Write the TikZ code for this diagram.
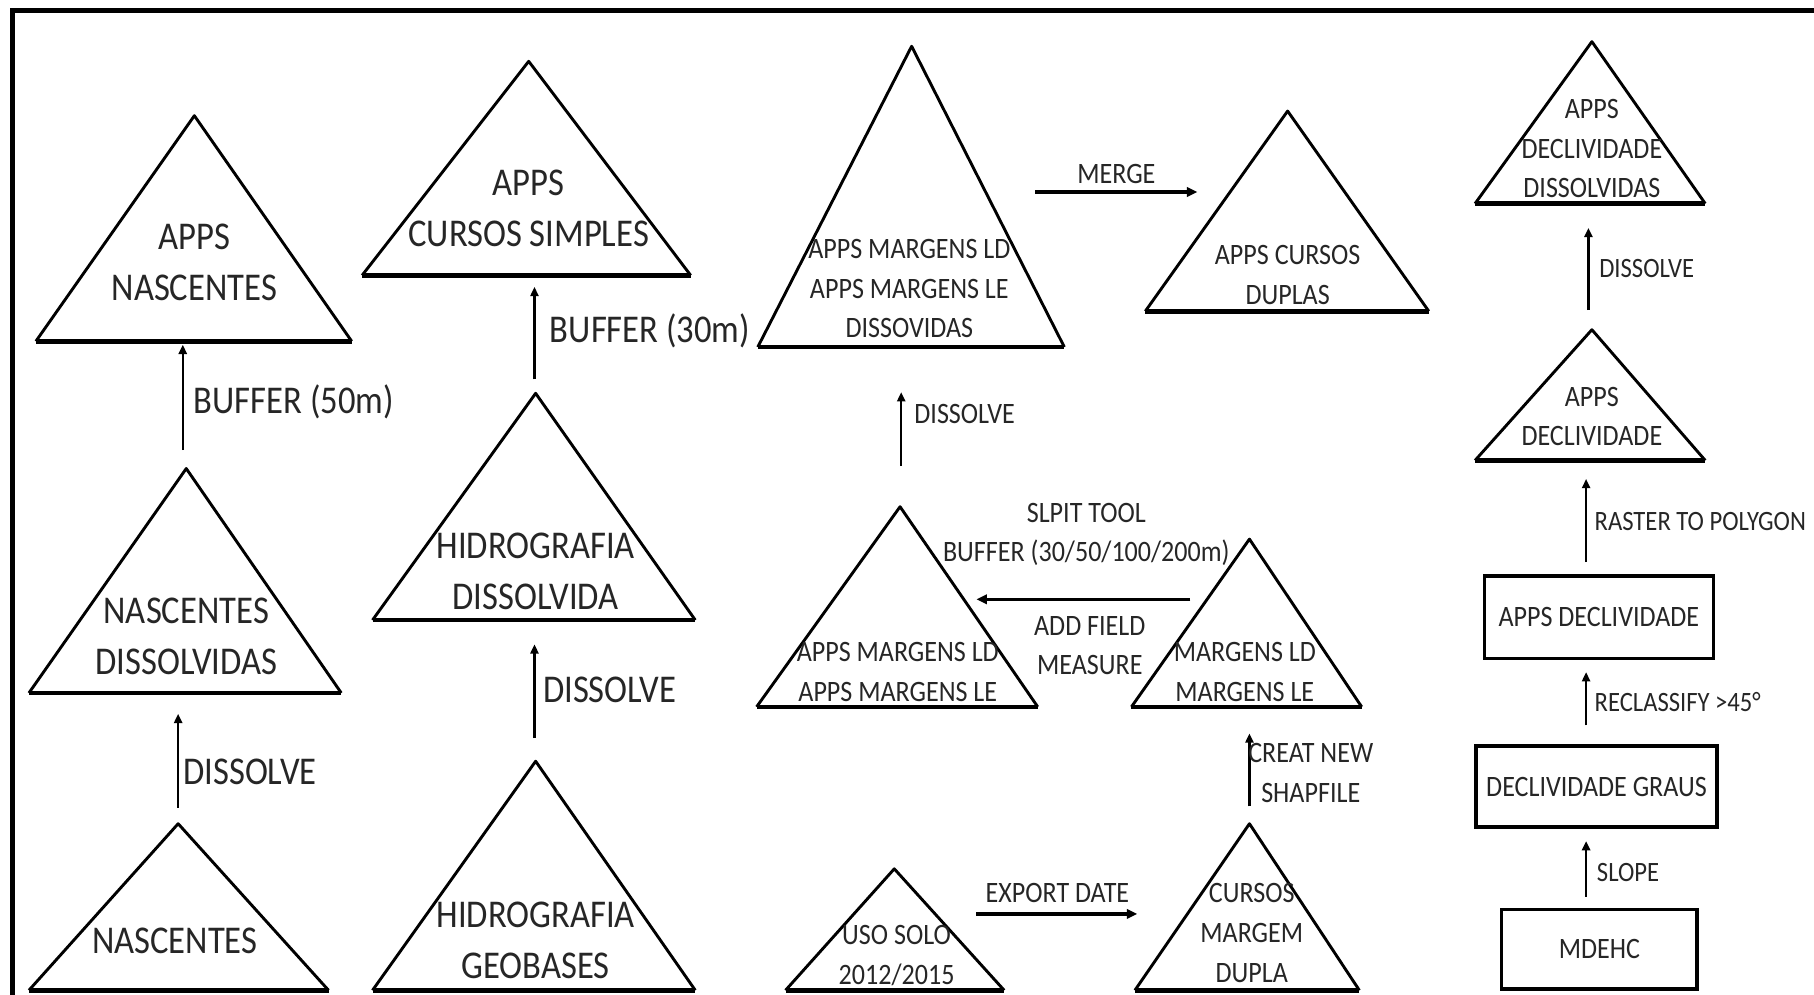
\documentclass[tikz,border=0pt]{standalone}
\usepackage{fontspec}
\setmainfont{Carlito}[FakeStretch=0.88]
\usetikzlibrary{arrows.meta}
\newcommand\mytri[6]{%
  \draw[side] (#2,#4) -- (#5,#6) -- (#3,#4);
  \draw[basel] (#2,#4) -- (#3,#4);
  \coordinate (#1) at (#5,#6);}
\begin{document}
\begin{tikzpicture}[x=0.5pt,y=-0.5pt,
  side/.style={line width=1.25pt, line join=round},
  basel/.style={line width=2pt},
  bigtxt/.style={inner sep=0pt, align=center, text=black!85, font=\fontsize{17}{22}\selectfont},
  smalltxt/.style={inner sep=0pt, align=center, text=black!85, font=\fontsize{12.8}{17.2}\selectfont},
  sidetxt/.style={inner sep=0pt, align=left, anchor=west, text=black!85, font=\fontsize{12.1}{16}\selectfont},
  arr/.style={line width=1pt, -{Triangle[length=4pt,width=3.5pt]}},
  harr/.style={line width=1.5pt, -{Triangle[length=4.5pt,width=4pt]}},
  procbox/.style={draw, line width=1.5pt, inner sep=0pt, text=black!85, font=\fontsize{12.8}{17.2}\selectfont},
]
\useasboundingbox (0,0) rectangle (1568,860);
\fill[white] (0,0) rectangle (1568,860);
\draw[line width=1.9pt] (10.7,870) -- (10.7,9) -- (1580,9);

% triangles
\mytri{T1}{31}{304}{295}{168}{100}
\mytri{T2}{313}{597}{238}{457}{53}
\mytri{T3}{25}{295}{599}{161}{405}
\mytri{T4}{322}{601}{536}{463}{340}
\mytri{T5}{25}{284}{856}{154}{712}
\mytri{T6}{322}{601}{856}{463}{658}
\mytri{T7}{655}{920}{300}{788}{40}
\mytri{T8}{990}{1235}{269}{1113}{96}
\mytri{T9}{654}{897}{611}{778}{438}
\mytri{T10}{978}{1177}{611}{1080}{466}
\mytri{T11}{679}{868}{856}{773}{751}
\mytri{T12}{981}{1175}{856}{1080}{712}
\mytri{T13}{1275}{1474}{176}{1376}{36}
\mytri{T14}{1275}{1474}{398}{1376}{285}

% triangle texts
\node[bigtxt] (t1) at (168,227) {APPS\\NASCENTES};
\node[bigtxt] (t2) at (457,180) {APPS\\CURSOS SIMPLES};
\node[bigtxt] (t3) at (161,550) {NASCENTES\\DISSOLVIDAS};
\node[bigtxt] (t4) at (463,493.5) {HIDROGRAFIA\\DISSOLVIDA};
\node[bigtxt] (t5) at (151,813) {NASCENTES};
\node[bigtxt] (t6) at (463,812.5) {HIDROGRAFIA\\GEOBASES};
\node[smalltxt] (t7) at (786,249.5) {APPS MARGENS LD\\APPS MARGENS LE\\DISSOVIDAS};
\node[smalltxt] (t8) at (1113,238) {APPS CURSOS\\DUPLAS};
\node[smalltxt] (t9) at (776,581) {APPS MARGENS LD\\APPS MARGENS LE};
\node[smalltxt] (t10) at (1076,581) {MARGENS LD\\MARGENS LE};
\node[smalltxt] (t11) at (775,826) {USO SOLO\\2012/2015};
\node[smalltxt] (t12) at (1082,806.5) {CURSOS\\MARGEM\\DUPLA};
\node[smalltxt] (t13) at (1376,128.5) {APPS\\DECLIVIDADE\\DISSOLVIDAS};
\node[smalltxt] (t14) at (1376,360) {APPS\\DECLIVIDADE};

% boxes
\node[procbox, minimum width=99pt, minimum height=35.5pt] (b1) at (1382,533.5) {APPS DECLIVIDADE};
\node[procbox, minimum width=104pt, minimum height=35pt] (b2) at (1380,680) {DECLIVIDADE GRAUS};
\node[procbox, minimum width=84.5pt, minimum height=34.5pt] (b3) at (1382.5,820.5) {MDEHC};

% arrow end points
\coordinate (a1s) at (158,389); \coordinate (a1e) at (158,298);
\coordinate (a2s) at (462,328); \coordinate (a2e) at (462,248);
\coordinate (a3s) at (154,698); \coordinate (a3e) at (154,617);
\coordinate (a4s) at (462,638); \coordinate (a4e) at (462,557);
\coordinate (a5s) at (779,403); \coordinate (a5e) at (779,339);
\coordinate (a6s) at (1080,697); \coordinate (a6e) at (1080,634);
\coordinate (a7s) at (1373,268); \coordinate (a7e) at (1373,197);
\coordinate (a8s) at (1371,486); \coordinate (a8e) at (1371,414);
\coordinate (a9s) at (1371,627); \coordinate (a9e) at (1371,581);
\coordinate (a10s) at (1371,775); \coordinate (a10e) at (1371,727);
\coordinate (ms) at (895,166); \coordinate (me) at (1035,166);
\coordinate (bs) at (1029,518); \coordinate (be) at (844,518);
\coordinate (es) at (844,790); \coordinate (ee) at (983,790);

\draw[arr] (a1s) -- (a1e);
\draw[arr] (a2s) -- (a2e);
\draw[arr] (a3s) -- (a3e);
\draw[arr] (a4s) -- (a4e);
\draw[arr] (a5s) -- (a5e);
\draw[arr] (a6s) -- (a6e);
\draw[arr] (a7s) -- (a7e);
\draw[arr] (a8s) -- (a8e);
\draw[arr] (a9s) -- (a9e);
\draw[arr] (a10s) -- (a10e);
\draw[harr] (ms) -- (me);
\draw[harr] (bs) -- (be);
\draw[harr] (es) -- (ee);

% labels
\node[bigtxt, anchor=west] (l1) at (167,347) {BUFFER (50m)};
\node[bigtxt, anchor=west] (l2) at (475,286) {BUFFER (30m)};
\node[bigtxt, anchor=west] (l3) at (158,667) {DISSOLVE};
\node[bigtxt, anchor=west] (l4) at (469,596) {DISSOLVE};
\node[smalltxt, anchor=west] (l5) at (790,358) {DISSOLVE};
\node[smalltxt] (l6) at (1133,668.5) {CREAT NEW\\SHAPFILE};
\node[sidetxt] (l7) at (1382,232) {DISSOLVE};
\node[sidetxt] (l8) at (1378,451) {RASTER TO POLYGON};
\node[sidetxt] (l9) at (1378,607) {RECLASSIFY >45°};
\node[sidetxt] (l10) at (1380,754) {SLOPE};
\node[smalltxt] (lm) at (965,150) {MERGE};
\node[smalltxt] (lb1) at (939,462) {SLPIT TOOL\\BUFFER (30/50/100/200m)};
\node[smalltxt] (lb2) at (942,558) {ADD FIELD\\MEASURE};
\node[smalltxt] (le) at (914,772) {EXPORT DATE};
\end{tikzpicture}
\end{document}
